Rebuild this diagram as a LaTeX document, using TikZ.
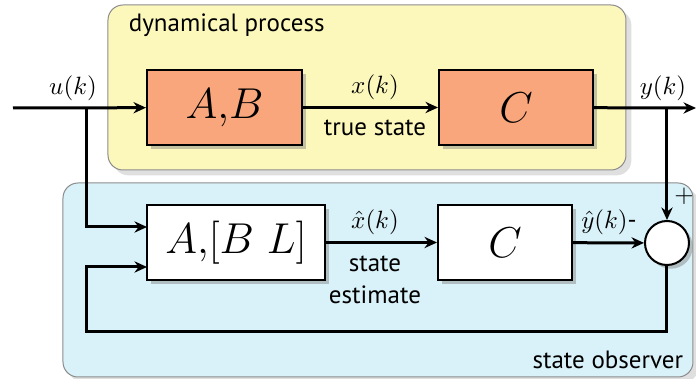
\documentclass[tikz,border=0pt]{standalone}
\usepackage{fontspec}
\setsansfont{PT Sans}
\usetikzlibrary{positioning,arrows.meta,shadows,calc}
\definecolor{procyellow}{HTML}{FCF8BC}
\definecolor{obsblue}{HTML}{D9F1F8}
\definecolor{blocksalmon}{HTML}{F9A67C}
\begin{document}
\begin{tikzpicture}[
    x=0.4pt, y=-0.4pt,
    every node/.style={font=\sffamily},
    region/.style={draw=gray!90, fill=#1, rounded corners=6pt, drop shadow={opacity=0.25}},
    block/.style={draw, thick, fill=#1, minimum height=30pt, inner sep=0pt, font=\LARGE,
        drop shadow={opacity=0.45, shadow xshift=1.5pt, shadow yshift=-1.5pt}},
    sumnode/.style={draw, thick, fill=white, circle, minimum size=17.6pt, inner sep=0pt,
        drop shadow={opacity=0.45, shadow xshift=1.5pt, shadow yshift=-1.5pt}},
    signal/.style={line width=1.2pt, -{Stealth[length=5pt,width=4.5pt]}},
    tag/.style={inner sep=0.5pt}
]
\useasboundingbox (0,0) rectangle (696,379);

% Regions
\draw[region=obsblue] (63,183) rectangle (693,377);
\draw[region=procyellow] (108,5) rectangle (626,170);
\node[anchor=west] (proclabel) at (120,25) {dynamical process};
\node[anchor=east] (obslabel) at (692,360) {state observer};

% Blocks
\node[block=blocksalmon, minimum width=62pt] (AB) at (224.5,107.5) {$A{,}B$};
\node[block=blocksalmon, minimum width=61.6pt] (Cp) at (516,107.5) {$C$};
\node[block=white, minimum width=71.2pt] (ABL) at (236,242.5) {$A{,}[B\ L]$};
\node[block=white, minimum width=53.6pt] (Co) at (505,242.5) {$C$};
\node[sumnode] (sum) at (667,243) {};

% Branch points
\coordinate (in) at (13,108);
\coordinate (ubr) at (87,108);
\coordinate (ybr) at (667,108);
\coordinate (out) at (696,108);
\coordinate (uin) at (147,227);
\coordinate (fbin) at (147,267);
\coordinate (fbl) at (87,332);

% Signals
\draw[signal] (in) -- (AB);
\draw[signal] (AB) -- (Cp);
\draw[signal] (Cp) -- (out);
\draw[signal] (ubr) |- (uin);
\draw[signal] (ybr) -- (sum);
\draw[signal] (ABL) -- (Co);
\draw[signal] (Co) -- (sum);
\draw[signal] (sum.south) |- (fbl) |- (fbin);

% Labels
\node[tag] (ulabel) at (73,88) {$u(k)$};
\node[tag] (xlabel) at (375,87) {$x(k)$};
\node[tag] (truelabel) at (375,128) {true state};
\node[tag] (ylabel) at (663,88) {$y(k)$};
\node[tag] (xhlabel) at (375,222) {$\hat{x}(k)$};
\node[tag] (statelabel) at (375,264) {state};
\node[tag] (estlabel) at (375,295) {estimate};
\node[tag] (yhlabel) at (609,222) {$\hat{y}(k)$-};
\node[tag] (pluslabel) at (684,196) {$+$};
\end{tikzpicture}
\end{document}
